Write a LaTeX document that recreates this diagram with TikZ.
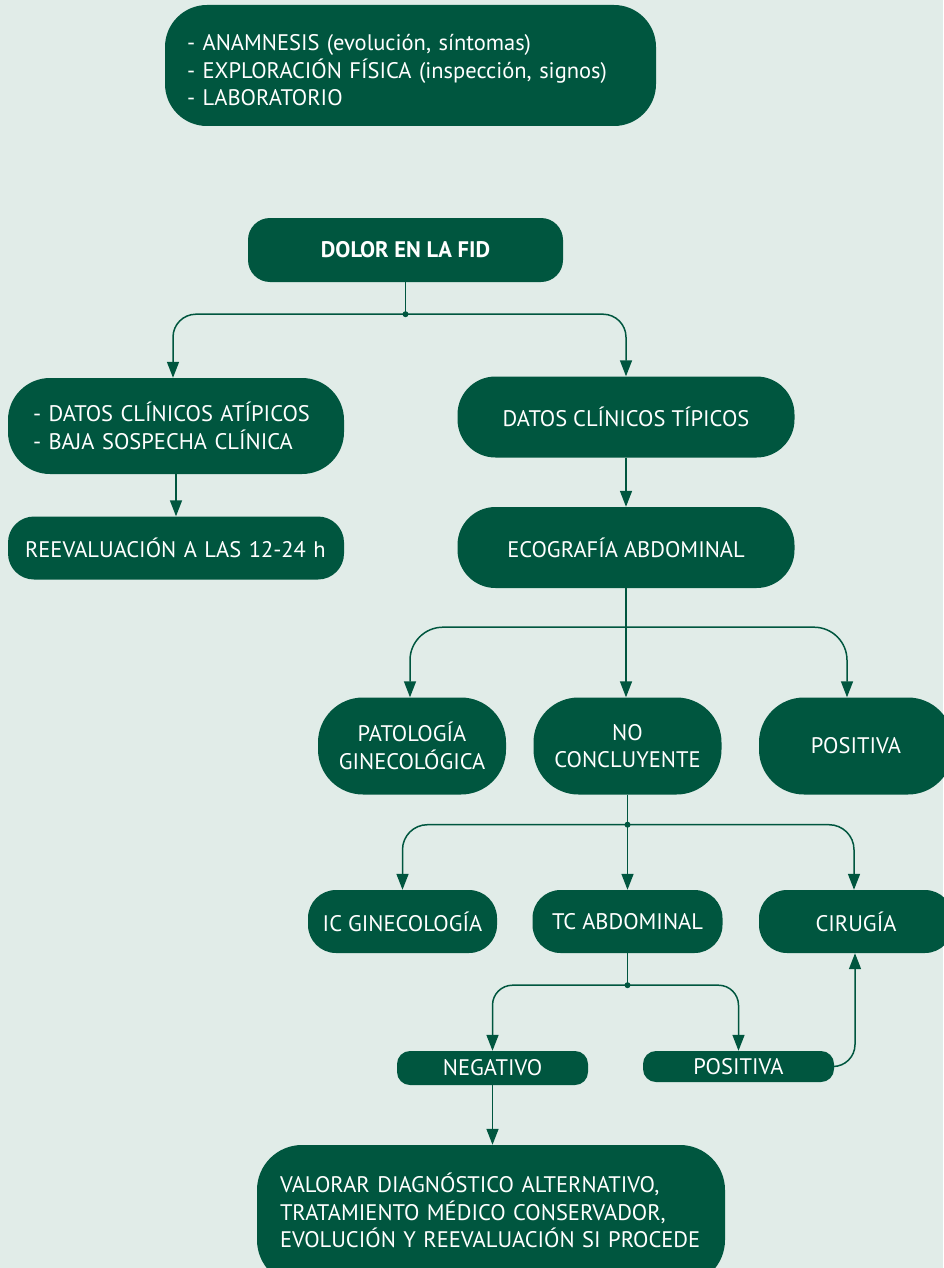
\documentclass[tikz,border=0pt]{standalone}
\usepackage{fontspec}
\setmainfont{PT Sans}
\usetikzlibrary{arrows.meta}
\definecolor{bg}{HTML}{E1ECE8}
\definecolor{deep}{HTML}{00563F}

\begin{document}
\begin{tikzpicture}[x=1pt,y=-1pt,
  box/.style={fill=deep, text=white, inner sep=0pt, align=center,
    font=\fontsize{22.5}{27.5}\selectfont},
  conn/.style={draw=deep, line width=1.5pt},
  arr/.style={conn, -{Triangle[width=12pt,length=16pt]}},
  dot/.style={circle, fill=deep, inner sep=0pt, minimum size=6pt}]

% canvas
\fill[bg] (0,0) rectangle (943,1268);
\useasboundingbox (0,0) rectangle (943,1268);

% boxes
\node[box, rounded corners=42pt, minimum width=491pt, minimum height=121pt,
      text width=447pt, align=left] (exam) at (410.5,65.5)
  {\rule{0pt}{26pt}\mbox{- ANAMNESIS (evolución, síntomas)}\\\mbox{- EXPLORACIÓN FÍSICA (inspección, signos)}\\- LABORATORIO};

\node[box, rounded corners=22pt, minimum width=315pt, minimum height=64pt,
      font=\fontsize{22.5}{27.5}\selectfont\bfseries] (dolor) at (405.5,250) {DOLOR EN LA FID};

\node[box, rounded corners=42pt, minimum width=336pt, minimum height=96pt,
      text width=286pt, align=left] (atip) at (176,426)
  {\mbox{- DATOS CLÍNICOS ATÍPICOS}\\\mbox{- BAJA SOSPECHA CLÍNICA}};

\node[box, rounded corners=26pt, minimum width=336pt, minimum height=63pt,
      text width=302pt, align=left] (reev) at (176,548) {\mbox{REEVALUACIÓN A LAS 12-24 h}};

\node[box, rounded corners=38pt, minimum width=337pt, minimum height=81pt] (tip) at (626,417)
  {DATOS CLÍNICOS TÍPICOS};

\node[box, rounded corners=38pt, minimum width=337pt, minimum height=81pt] (eco) at (626,547.5)
  {ECOGRAFÍA ABDOMINAL};

\node[box, rounded corners=45pt, minimum width=188pt, minimum height=97pt] (pat) at (412,746)
  {PATOLOGÍA\\GINECOLÓGICA};
\node[box, rounded corners=45pt, minimum width=188pt, minimum height=97pt] (noc) at (627.5,746)
  {NO\\CONCLUYENTE};
\node[box, rounded corners=45pt, minimum width=194pt, minimum height=97pt] (pos1) at (856,746)
  {POSITIVA};

\node[box, rounded corners=28pt, minimum width=189pt, minimum height=63pt] (ic) at (402.5,921.5)
  {IC GINECOLOGÍA};
\node[box, rounded corners=28pt, minimum width=190pt, minimum height=63pt] (tc) at (627.5,921.5)
  {TC ABDOMINAL};
\node[box, rounded corners=28pt, minimum width=194pt, minimum height=63pt] (cir) at (856,921.5)
  {CIRUGÍA};

\node[box, rounded corners=13pt, minimum width=191pt, minimum height=34pt] (neg) at (492.5,1068)
  {NEGATIVO};
\node[box, rounded corners=13pt, minimum width=191pt, minimum height=31pt] (pos2) at (738.5,1066.5)
  {POSITIVA};

\node[box, rounded corners=45pt, minimum width=468pt, minimum height=140pt,
      text width=422pt, align=left] (final) at (491,1215)
  {\mbox{VALORAR DIAGNÓSTICO ALTERNATIVO,}\\\mbox{TRATAMIENTO MÉDICO CONSERVADOR,}\\\mbox{EVOLUCIÓN Y REEVALUACIÓN SI PROCEDE}\rule[-9pt]{0pt}{9pt}};

% junction points
\coordinate (j1) at ([yshift=-32pt]dolor.south);
\coordinate (j2) at ([yshift=-39pt]eco.south);
\coordinate (j3) at ([yshift=-30pt]noc.south);
\coordinate (j4) at ([yshift=-32pt]tc.south);

% connectors
\draw[conn] (dolor.south) -- (j1);
\draw[arr, rounded corners=23pt] (j1) -| ([xshift=-3pt]atip.north);
\draw[arr, rounded corners=23pt] (j1) -| (tip.north);
\node[dot] (d1) at (j1) {};

\draw[arr] (atip.south) -- (reev.north);
\draw[arr] (tip.south) -- (eco.north);

\draw[arr] (eco.south) -- (eco.south |- noc.north);
\draw[arr, rounded corners=33pt] (j2) -| ([xshift=-2pt]pat.north);
\draw[arr, rounded corners=33pt] (j2) -| ([xshift=-9pt]pos1.north);

\draw[arr] (noc.south) -- (tc.north);
\draw[arr, rounded corners=25pt] (j3) -| (ic.north);
\draw[arr, rounded corners=25pt] (j3) -| ([xshift=-2pt]cir.north);
\node[dot] (d3) at (j3) {};

\draw[conn] (tc.south) -- (j4);
\draw[arr, rounded corners=20pt] (j4) -| (neg.north);
\draw[arr, rounded corners=20pt] (j4) -| (pos2.north);
\node[dot] (d4) at (j4) {};

\draw[arr] (neg.south) -- (neg.south |- final.north);
\draw[arr, rounded corners=22pt] (pos2.east) -| ([xshift=-1pt]cir.south);

\end{tikzpicture}
\end{document}
